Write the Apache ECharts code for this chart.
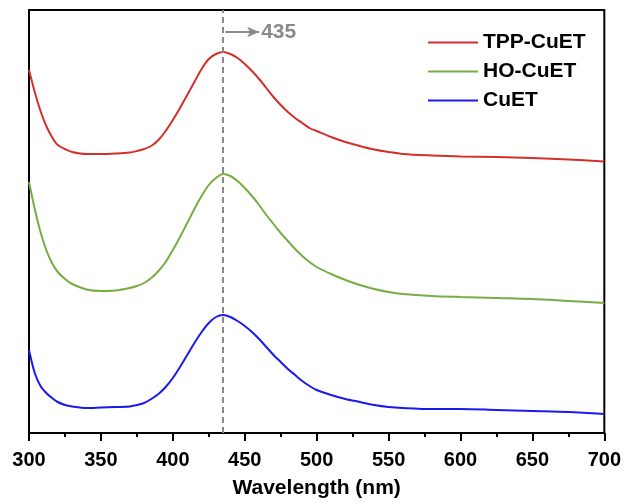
<!DOCTYPE html>
<html>
<head>
<meta charset="utf-8">
<script src="https://cdn.jsdelivr.net/npm/echarts@6/dist/echarts.min.js"></script>
<style>
  html, body { margin: 0; padding: 0; background: #fff; }
  #chart { width: 624px; height: 504px; }
</style>
</head>
<body>
<div id="chart"></div>
<script>
// wavelength (nm), shared by the three spectra
const wavelengths = [300,304,308,312,316,320,325,330,340,350,360,370,
  375,380,385,390,395,400,405,410,415,420,425,430,435,440,445,450,455,460,465,470,475,480,485,490,495,500,
  510,520,530,540,550,560,580,600,625,650,675,700];
// absorbance, arbitrary units (curves offset vertically)
const absTpp = [363,341,322,307,296,288,284,281,279,279,279.5,280.5,
  282,284,287,293,302,313,325,338,351,364,374,379,381,379,375,369,362,354,345,336,328,321,315,310,305,302,
  296,291,287,283.5,281,279,277.5,276.5,276,275,273.5,271.5];
const absHo = [251,224,201,183,170,161,154,149,143.5,142,142.5,145,
  147,150,155,162,171,183,196,210,224,237,248,255,259,257,252,245,237,228,218,209,200,192,184,177,171,166,
  159,153,148,144,141,139,137,136,135,134,132,130];
const absCu = [83,60,47,40,35,31,28,26.5,25,25.5,26,26.5,
  28,30,34,39,46,55,66,78,90,101,110,116,118,116,112,107,101,94,86,78,71,64,58,52,47,43,
  38,34,31,28,26,25,24,24,23,22,21,19];

const seriesNames = ['TPP-CuET', 'HO-CuET', 'CuET'];
const peakWl = 435;

function pairs(xs, ys) {
  return xs.map((x, i) => [x, ys[i]]);
}

const chart = echarts.init(document.getElementById('chart'));

const option = {
  animation: false,
  backgroundColor: '#fff',
  textStyle: { fontFamily: 'Liberation Sans, Arial, sans-serif' },
  grid: {
    left: 29, right: 19, top: 10, bottom: 71,
    show: true, borderColor: '#000', borderWidth: 2
  },
  legend: {
    orient: 'vertical',
    left: 423, top: 27,
    itemWidth: 50, itemHeight: 2, itemGap: 8,
    icon: 'rect',
    textStyle: { fontSize: 21, fontWeight: 'bold', color: '#000', lineHeight: 20 },
    data: seriesNames
  },
  xAxis: {
    type: 'value',
    min: 300, max: 700, interval: 50,
    name: 'Wavelength (nm)',
    nameLocation: 'middle',
    nameGap: 45,
    nameTextStyle: { fontSize: 21, fontWeight: 'bold', color: '#000' },
    axisLine: { lineStyle: { color: '#000', width: 2 } },
    axisTick: { length: 8, lineStyle: { color: '#000', width: 2 } },
    minorTick: { show: true, splitNumber: 2, length: 4, lineStyle: { color: '#000', width: 2 } },
    axisLabel: { fontSize: 20, fontWeight: 'bold', color: '#000', margin: 17 },
    splitLine: { show: false }
  },
  yAxis: {
    type: 'value',
    min: 0, max: 423,
    axisLine: { show: false },
    axisTick: { show: false },
    axisLabel: { show: false },
    splitLine: { show: false }
  },
  series: [
    {
      name: seriesNames[0], type: 'line', showSymbol: false, smooth: 0.3,
      color: '#d3302b', lineStyle: { width: 2 },
      data: pairs(wavelengths, absTpp),
      markLine: {
        silent: true,
        symbol: ['none', 'none'],
        data: [
          {
            xAxis: peakWl,
            lineStyle: { color: '#8a8a8a', type: [6, 4], width: 2 },
            label: { show: false }
          },
          [
            { coord: [peakWl + 1.5, 401], symbol: 'none' },
            {
              coord: [peakWl + 25, 401], symbol: 'arrow', symbolSize: [8, 12],
              lineStyle: { color: '#8a8a8a', type: 'solid', width: 2 },
              label: {
                show: true, position: 'end', distance: 2, formatter: String(peakWl),
                fontSize: 21, fontWeight: 'bold', color: '#8a8a8a'
              }
            }
          ]
        ]
      }
    },
    {
      name: seriesNames[1], type: 'line', showSymbol: false, smooth: 0.3,
      color: '#77ad43', lineStyle: { width: 2 },
      data: pairs(wavelengths, absHo)
    },
    {
      name: seriesNames[2], type: 'line', showSymbol: false, smooth: 0.3,
      color: '#1a1aef', lineStyle: { width: 2 },
      data: pairs(wavelengths, absCu)
    }
  ]
};

chart.setOption(option);
</script>
</body>
</html>
